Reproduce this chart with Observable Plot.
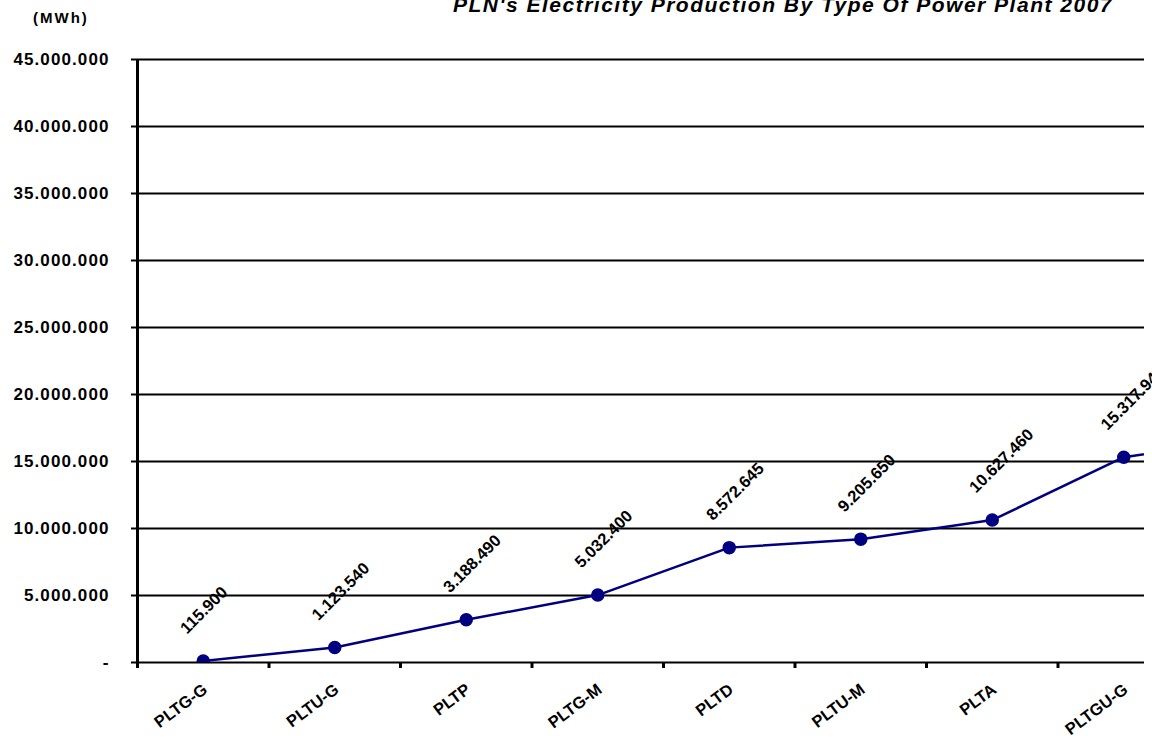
<!DOCTYPE html>
<html>
<head>
<meta charset="utf-8">
<script src="https://cdn.jsdelivr.net/npm/d3@7"></script>
<script src="https://cdn.jsdelivr.net/npm/@observablehq/plot@0.6"></script>
<style>
  html, body { margin: 0; padding: 0; background: #fff; overflow: hidden; }
  #wrap { position: relative; width: 1152px; height: 742px; overflow: hidden; }
  #title { position: absolute; right: 39px; top: -7px; font-family: "Liberation Sans", Arial, sans-serif; font-weight: bold; font-style: italic; font-size: 21px; line-height: 24px; letter-spacing: 1.5px; white-space: nowrap; color: #000; }
  #unit { position: absolute; left: 33px; top: 8px; font-family: "Liberation Sans", Arial, sans-serif; font-weight: bold; font-size: 15px; line-height: 20px; letter-spacing: 2px; color: #000; }
  g[aria-label="y-axis tick label"] text { letter-spacing: 1.1px; }
  svg { overflow: hidden; }
</style>
</head>
<body>
<div id="wrap">
  <div id="chart"></div>
  <div id="unit">(MWh)</div>
  <div id="title">PLN's Electricity Production By Type Of Power Plant 2007</div>
</div>
<script>
// Categories (the last one continues beyond the right edge of the reference crop)
const categories = ["PLTG-G", "PLTU-G", "PLTP", "PLTG-M", "PLTD", "PLTU-M", "PLTA", "PLTGU-G", "PLTU-B"];
const values = [115900, 1123540, 3188490, 5032400, 8572645, 9205650, 10627460, 15317940, 16800000];
const valueLabels = ["115.900", "1.123.540", "3.188.490", "5.032.400", "8.572.645", "9.205.650", "10.627.460", "15.317.940", "16.800.000"];
const yTicks = [0, 5000000, 10000000, 15000000, 20000000, 25000000, 30000000, 35000000, 40000000, 45000000];

const data = categories.map((c, i) => ({i, cat: c, value: values[i], label: valueLabels[i]}));
const boundaries = categories.slice(0, 8).map((c, i) => i - 0.5);
const fmt = d => d === 0 ? "-" : d3.format(",")(d).replace(/,/g, ".");

const font = "'Liberation Sans', Arial, sans-serif";
const navy = "#000080";

const chart = Plot.plot({
  width: 1152,
  height: 742,
  marginLeft: 137,
  marginRight: 8,
  marginTop: 59,
  marginBottom: 80,
  style: {fontFamily: font, background: "white", color: "black"},
  x: {type: "linear", domain: [-0.5, 8.5], range: [137, 137 + 9 * 131.5], axis: null},
  y: {domain: [0, 45000000], axis: null},
  marks: [
    Plot.ruleY(yTicks, {stroke: "black", strokeWidth: 2}),
    Plot.ruleX([boundaries[0]], {stroke: "black", strokeWidth: 3}),
    Plot.axisY({ticks: yTicks, tickFormat: fmt, tickSize: 6, tickPadding: 22, strokeWidth: 2, fontSize: 17, fontWeight: "bold", fill: "black", stroke: "black", label: null}),
    Plot.axisX({ticks: boundaries, tickFormat: () => "", tickSize: 6, strokeWidth: 3, stroke: "black", label: null}),
    Plot.text(data.slice(0, 8), {x: "i", y: () => 0, text: "cat", rotate: -37, textAnchor: "end", dx: 2, dy: 25, fontSize: 16.5, fontWeight: "bold", fill: "black"}),
    Plot.line(data, {x: "i", y: "value", stroke: navy, strokeWidth: 2.5, clip: true}),
    Plot.dot(data, {x: "i", y: "value", r: 6, fill: navy, stroke: navy, clip: true}),
    Plot.text(data, {x: "i", y: "value", text: "label", rotate: -45, textAnchor: "start", dx: -20, dy: -30, fontSize: 16.5, fontWeight: "bold", fill: "black"})
  ]
});
document.getElementById("chart").appendChild(chart);
</script>
</body>
</html>
